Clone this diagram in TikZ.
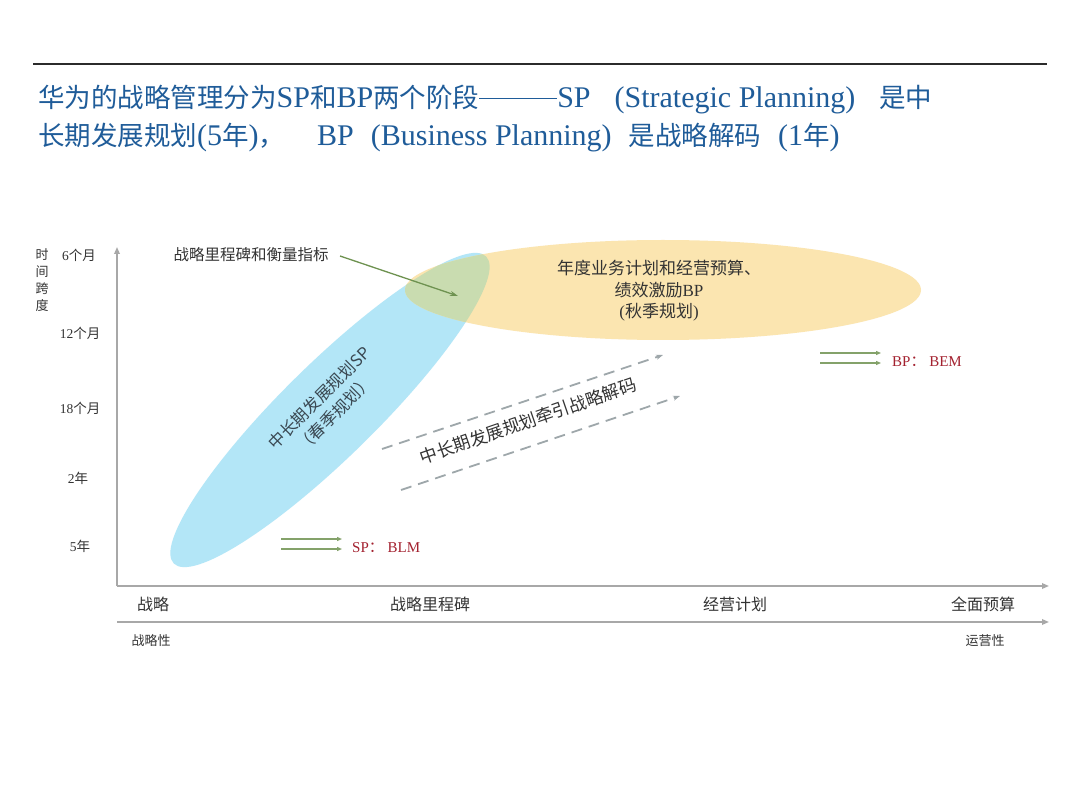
\documentclass[tikz,border=0pt]{standalone}
\usepackage{fontspec}
\setmainfont{Liberation Serif}
\newfontfamily\cjk{Noto Sans CJK SC}
\usetikzlibrary{arrows.meta,positioning}
\definecolor{ink}{HTML}{333333}
\definecolor{slate}{HTML}{3A4852}
\definecolor{titleblue}{HTML}{1F5C99}
\definecolor{rule}{HTML}{2B2B2B}
\definecolor{axisgray}{HTML}{A8A8A8}
\definecolor{spblue}{HTML}{B3E6F7}
\definecolor{bpyellow}{HTML}{FBE5B0}
\definecolor{overlap}{HTML}{C9DCB0}
\definecolor{leaf}{HTML}{6E9250}
\definecolor{dashgray}{HTML}{9EA7AA}
\definecolor{wine}{HTML}{A3212F}
\newcommand{\zh}[1]{{\cjk #1}}
\newcommand{\zt}[1]{{\cjk\fontsize{26.5}{30}\selectfont #1}}
\newcommand{\longdash}{\rule[0.3em]{78pt}{1.3pt}}
\tikzset{
  ttl/.style={font=\fontsize{30}{34}\selectfont,text=titleblue,anchor=base west,inner sep=0pt},
  ylab/.style={font=\fontsize{13.5}{17}\selectfont,text=ink,inner sep=0pt,align=center},
  xlab/.style={font=\cjk\fontsize{16}{18}\selectfont,text=ink,inner sep=0pt},
  slab/.style={font=\cjk\fontsize{13}{15}\selectfont,text=ink,inner sep=0pt},
  note/.style={font=\fontsize{17}{21.5}\selectfont,text=ink,inner sep=0pt,align=center},
  sans/.style={font=\cjk\fontsize{16.5}{22}\selectfont,text=slate,inner sep=0pt,align=center},
  tag/.style={font=\fontsize{15}{17}\selectfont,text=wine,anchor=west,inner sep=0pt},
  axisarr/.style={draw=axisgray,line width=1.6pt,-{Triangle[length=7pt,width=5.5pt]}},
  leafarr/.style={draw=leaf,line width=1.3pt,-{Stealth[length=8pt,width=5pt]}},
  twin/.style={draw=leaf!85,line width=1.1pt,-{Triangle[length=5pt,width=4pt]}},
  dasharr/.style={draw=dashgray,line width=1.8pt,dash pattern=on 11pt off 7pt,-{Stealth[length=7pt,width=5pt]}},
}
\begin{document}
\begin{tikzpicture}[x=1pt,y=-1pt]
  \useasboundingbox[fill=white] (0,0) rectangle (1080,810);
  % title
  \draw[rule,line width=1.3pt] (33,64) -- (1047,64);
  \node[ttl] (title1) at (38,108) {\zt{华为的战略管理分为}SP\zt{和}BP\zt{两个阶段}\longdash SP\hspace{24pt}(Strategic Planning)\hspace{24pt}\zt{是中}};
  \node[ttl] (title2) at (38,146) {\zt{长期发展规划}(5\zt{年})\zt{，}\hspace{32pt}BP\hspace{17pt}(Business Planning)\hspace{17pt}\zt{是战略解码}\hspace{17pt}(1\zt{年})};
  % ellipses
  \coordinate (spc) at (330,410);
  \coordinate (bpc) at (663,290);
  \fill[spblue,rotate around={44.5:(spc)}] (spc) ellipse [x radius=219,y radius=47];
  \fill[bpyellow] (bpc) ellipse [x radius=258,y radius=50];
  \begin{scope}
    \clip (bpc) ellipse [x radius=258,y radius=50];
    \fill[overlap,rotate around={44.5:(spc)}] (spc) ellipse [x radius=219,y radius=47];
  \end{scope}
  % axes
  \coordinate (o) at (117,586);
  \coordinate (ytop) at (117,247);
  \coordinate (xend) at (1049,586);
  \coordinate (o2) at (117,622);
  \coordinate (x2end) at (1049,622);
  \draw[axisarr] (o) -- (ytop);
  \draw[axisarr] (o) -- (xend);
  \draw[axisarr] (o2) -- (x2end);
  \node[ylab,font=\cjk\fontsize{13}{17}\selectfont] (span) at (42,280) {时\\间\\跨\\度};
  \node[ylab] (m6) at (79,255) {6\zh{个月}};
  \node[ylab] (m12) at (80,333) {12\zh{个月}};
  \node[ylab] (m18) at (80,408) {18\zh{个月}};
  \node[ylab] (y2) at (78,478) {2\zh{年}};
  \node[ylab] (y5) at (80,546) {5\zh{年}};
  \node[xlab] (strat) at (153,604) {战略};
  \node[xlab] (miles) at (430,604) {战略里程碑};
  \node[xlab] (plan) at (735,604) {经营计划};
  \node[xlab] (budget) at (983,604) {全面预算};
  \node[slab] (strategic) at (151,641) {战略性};
  \node[slab] (operative) at (985,641) {运营性};
  % ellipse texts
  \node[note] (bptext) at (659,291) {\zh{年度业务计划和经营预算、}\\\zh{绩效激励}BP\\(\zh{秋季规划})};
  \node[sans,rotate=45] (sptext) at (327,406) {中长期发展规划SP\\（春季规划）};
  \node[slab,font=\cjk\fontsize{15.5}{17}\selectfont] (msl) at (251,255) {战略里程碑和衡量指标};
  \coordinate (mslstart) at (340,256);
  \coordinate (mslend) at (458,296);
  \draw[leafarr] (mslstart) -- (mslend);
  % decoding
  \coordinate (d1a) at (382,449);
  \coordinate (d1b) at (663,355);
  \coordinate (d2a) at (401,490);
  \coordinate (d2b) at (680,396);
  \draw[dasharr] (d1a) -- (d1b);
  \draw[dasharr] (d2a) -- (d2b);
  \node[sans,font=\cjk\fontsize{17.5}{20}\selectfont,text=ink,rotate=19] (pull) at (528,421) {中长期发展规划牵引战略解码};
  % methods
  \node[tag] (blm) at (352,548) {SP\zh{：}\ BLM};
  \node[tag] (bem) at (892,362) {BP\zh{：}\ BEM};
  \coordinate (s1) at (281,539);
  \coordinate (s2) at (281,549);
  \coordinate (b1) at (820,353);
  \coordinate (b2) at (820,363);
  \draw[twin] (s1) -- ([xshift=-10pt]s1 -| blm.west);
  \draw[twin] (s2) -- ([xshift=-10pt]s2 -| blm.west);
  \draw[twin] (b1) -- ([xshift=-11pt]b1 -| bem.west);
  \draw[twin] (b2) -- ([xshift=-11pt]b2 -| bem.west);
\end{tikzpicture}
\end{document}
